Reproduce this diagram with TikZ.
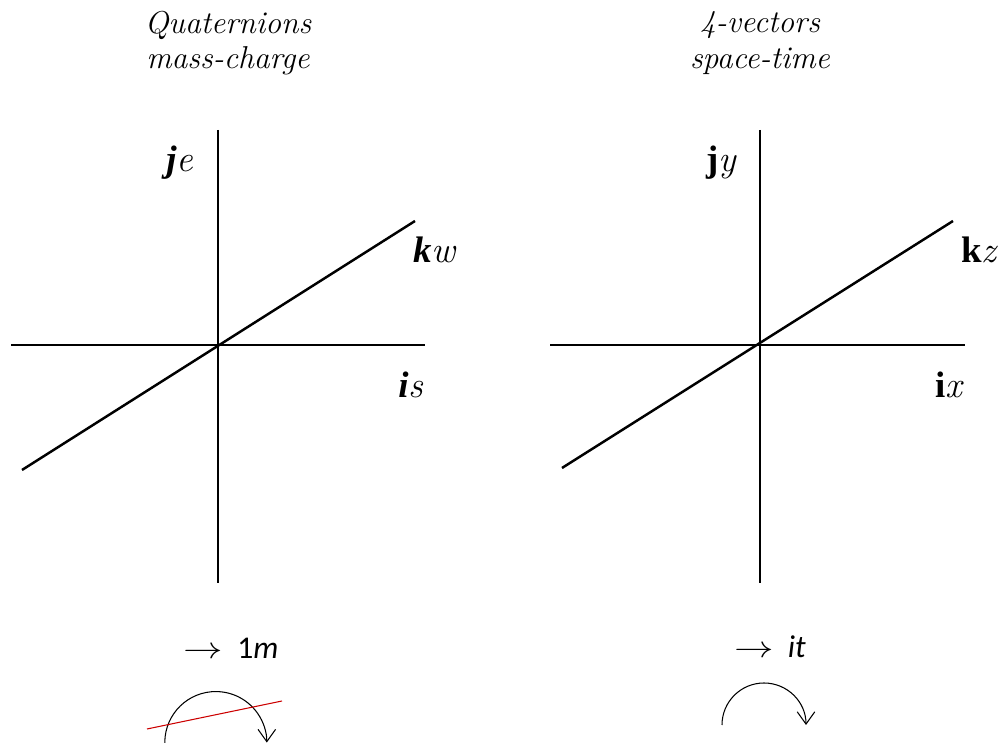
\documentclass[tikz,border=0pt]{standalone}
\usepackage{fontspec}
\setmainfont{Latin Modern Roman}[
    BoldFont={Liberation Serif Bold},
    BoldItalicFont={Liberation Serif Bold Italic}]
\newfontfamily\calfont{Carlito}
\usetikzlibrary{arrows.meta}

\begin{document}
\begin{tikzpicture}[
        x=0.02cm, y=0.02cm,
        axisline/.style={line width=1.4pt, black},
        heading/.style={font=\fontsize{18}{20}\selectfont\itshape, align=center, inner sep=0pt},
        axlabel/.style={font=\fontsize{21}{24}\selectfont, inner sep=0pt, anchor=base},
        caption/.style={font=\calfont\fontsize{18}{20}\selectfont, inner sep=0pt},
        turnarc/.style={line width=0.6pt, -{Straight Barb[length=7pt,width=10pt]}},
        crossout/.style={line width=0.6pt, red!80!black}
    ]
    \useasboundingbox (0,0) rectangle (998,743);

    % ==========================================
    % 1. Quaternions (left)
    % ==========================================
    \node[heading] (qtitle) at (228, 700) {Quaternions\\mass-charge};

    \coordinate (qo) at (218, 398);
    \coordinate (qtop) at (218, 613);
    \coordinate (qbot) at (218, 160);
    \coordinate (qleft) at (11, 398);
    \coordinate (qright) at (425, 398);
    \coordinate (qdiag1) at (22, 273);
    \coordinate (qdiag2) at (415, 522);

    \draw[axisline] (qtop) -- (qbot);
    \draw[axisline] (qleft) -- (qright);
    \draw[axisline] (qdiag1) -- (qdiag2);

    \node[axlabel] (qj) at (180, 571) {\textbf{\textit{j}}\textit{e}};
    \node[axlabel] (qk) at (435, 480) {\textbf{\textit{k}}\textit{w}};
    \node[axlabel] (qi) at (411, 345) {\textbf{\textit{i}}\textit{s}};

    \node[caption] (qcap) at (231, 95) {\scalebox{1.3}[1]{$\rightarrow$}\ \ 1\textit{m}};

    % arc, struck out
    \coordinate (qarcstart) at (165, -4);
    \draw[turnarc] (qarcstart) arc[start angle=185, end angle=0, radius=51];
    \coordinate (qred1) at (147, 14);
    \coordinate (qred2) at (282, 42);
    \draw[crossout] (qred1) -- (qred2);

    % ==========================================
    % 2. 4-vectors (right)
    % ==========================================
    \node[heading] (vtitle) at (760, 700) {4-vectors\\space-time};

    \coordinate (vo) at (760, 398);
    \coordinate (vtop) at (760, 613);
    \coordinate (vbot) at (760, 160);
    \coordinate (vleft) at (550, 398);
    \coordinate (vright) at (965, 398);
    \coordinate (vdiag1) at (562, 275);
    \coordinate (vdiag2) at (953, 522);

    \draw[axisline] (vtop) -- (vbot);
    \draw[axisline] (vleft) -- (vright);
    \draw[axisline] (vdiag1) -- (vdiag2);

    \node[axlabel] (vj) at (722, 571) {\textbf{j}\textit{y}};
    \node[axlabel] (vk) at (980, 480) {\textbf{k}\textit{z}};
    \node[axlabel] (vi) at (950, 345) {\textbf{i}\textit{x}};

    \node[caption] (vcap) at (770, 96) {\scalebox{1.3}[1]{$\rightarrow$}\ \ \textit{it}};

    \coordinate (varcstart) at (722, 18);
    \draw[turnarc] (varcstart) arc[start angle=180, end angle=0, radius=42];

\end{tikzpicture}
\end{document}
